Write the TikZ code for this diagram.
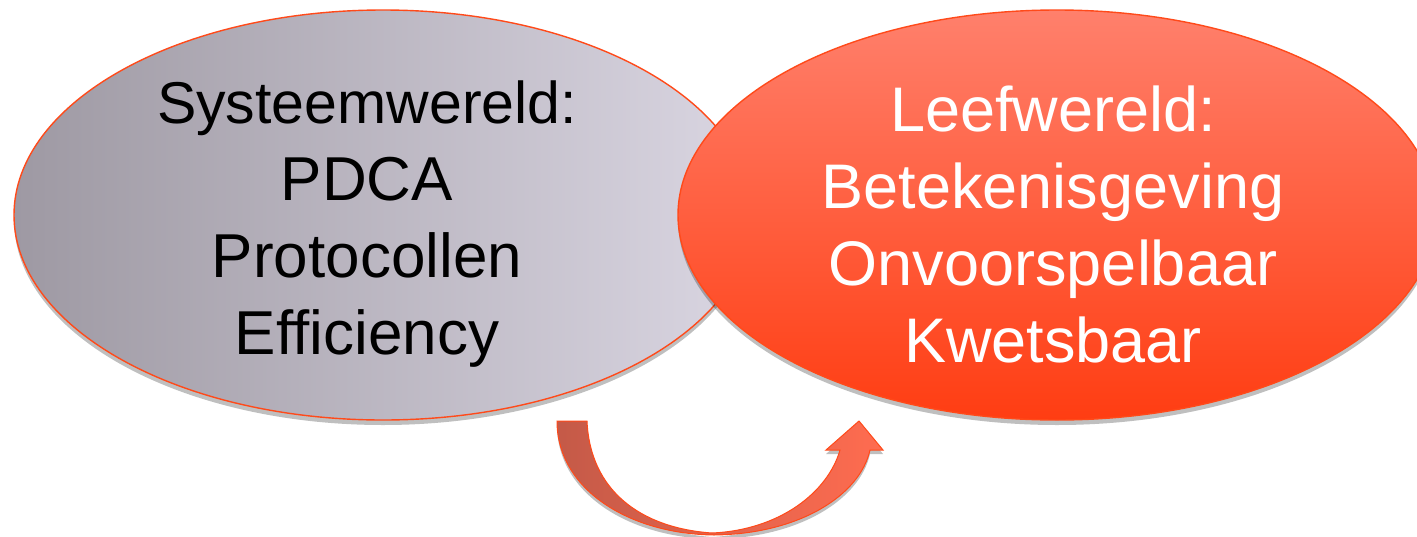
\documentclass[tikz,border=0pt]{standalone}
\usepackage{fontspec}
\setmainfont{Liberation Sans}
\usetikzlibrary{shapes.geometric,shadows}
\definecolor{edge}{HTML}{FF4A1A}
\definecolor{grayL}{HTML}{9E99A3}
\definecolor{grayR}{HTML}{DAD6E2}
\definecolor{redT}{HTML}{FF806C}
\definecolor{redB}{HTML}{FF3D12}
\definecolor{arrL}{HTML}{C45A48}
\definecolor{arrR}{HTML}{FF6C50}
\tikzset{
  blob/.style={ellipse, draw=edge, line width=1.4pt, inner sep=0pt,
    drop shadow={shadow xshift=0pt, shadow yshift=-5pt, opacity=0.25, fill=black}},
  label text/.style={align=center, font=\fontsize{62}{77}\selectfont},
}
\begin{document}
\begin{tikzpicture}[x=1pt,y=-1pt]
\useasboundingbox (0,0) rectangle (1417,536);
\node[blob, minimum width=738pt, minimum height=410pt, left color=grayL, right color=grayR] (sys) at (383,215) {};
\node[blob, minimum width=758pt, minimum height=410pt, top color=redT, bottom color=redB] (leef) at (1057,215) {};
\node[label text, text=black] (systxt) at (367,224) {{\fontsize{59}{77}\selectfont Systeemwereld:}\\PDCA\\Protocollen\\Efficiency};
\node[label text, text=white, font=\fontsize{63}{77}\selectfont] (leeftxt) at (1053,224) {Leefwereld:\\Betekenisgeving\\Onvoorspelbaar\\Kwetsbaar};
\coordinate (tailO) at (557,421);
\coordinate (tailI) at (587,421);
\coordinate (tip) at (859,421);
\path[left color=arrL, right color=arrR, draw=edge, line width=1pt,
      drop shadow={shadow xshift=0pt, shadow yshift=-4pt, opacity=0.25, fill=black}]
  (tailO) .. controls (557,490) and (630,534) .. (714,535)
  .. controls (800,534) and (860,495) .. (870,450)
  -- (883,450) -- (tip) -- (826,450) -- (840,450)
  .. controls (828,492) and (780,530) .. (712,533)
  .. controls (640,528) and (590,490) .. (tailI) -- cycle;
\end{tikzpicture}
\end{document}
